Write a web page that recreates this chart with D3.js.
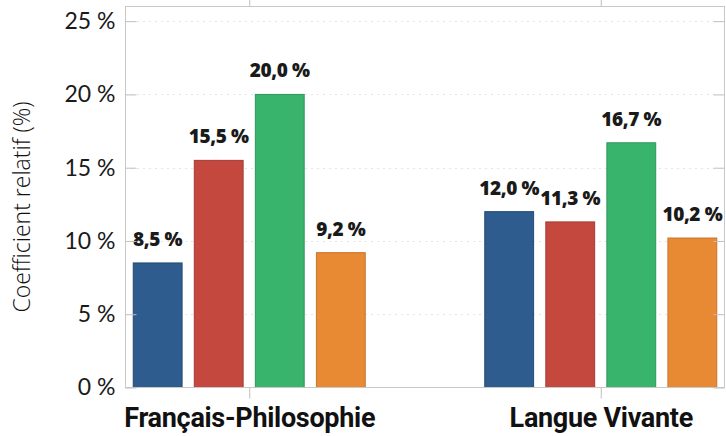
<!DOCTYPE html>
<html><head><meta charset="utf-8">
<script src="https://cdn.jsdelivr.net/npm/d3@7"></script>
<style>
html,body{margin:0;padding:0;background:#fff;}
svg{display:block;}
</style></head>
<body>
<svg id="chart" width="726" height="436"></svg>
<script>
const categories = ["Français-Philosophie", "Langue Vivante"];
const seriesNames = ["S1", "S2", "S3", "S4"];
const seriesValues = [
  [8.5, 12.0],
  [15.5, 11.3],
  [20.0, 16.7],
  [9.2, 10.2]
];
const seriesColors = ["#2e5c8f", "#c5483e", "#39b46c", "#e88a34"];
const seriesStrokes = ["#244a75", "#a53a32", "#2e965a", "#c8722a"];
const yTicks = [0, 5, 10, 15, 20, 25];
const yTitle = "Coefficient relatif (%)";

const svg = d3.select("#chart");
const L = 125.5, R = 724.5, T = 6.5, B = 387.5;

const y = d3.scaleLinear().domain([0, 26]).range([B, T]);
const x0 = d3.scalePoint().domain(categories).range([L, R]).padding(0.352);
const x1 = d3.scaleBand().domain(seriesNames).range([-116, 116]).paddingInner(0.2);

const fmt = v => d3.format(".1f")(v).replace(".", ",") + " %";

// plot area
svg.append("rect").attr("x", L).attr("y", T).attr("width", R - L).attr("height", B - T)
  .attr("fill", "#fff");

// gridlines
svg.append("g").selectAll("line").data(yTicks.filter(d => d > 0)).join("line")
  .attr("x1", L).attr("x2", R)
  .attr("y1", d => Math.round(y(d)) + 0.5).attr("y2", d => Math.round(y(d)) + 0.5)
  .attr("stroke", "#c8c8c8").attr("stroke-width", 1).attr("stroke-dasharray", "1,5");

// bars
const groups = svg.append("g").selectAll("g").data(categories).join("g")
  .attr("transform", d => `translate(${x0(d)},0)`);
seriesNames.forEach((s, si) => {
  groups.append("rect")
    .attr("x", x1(s)).attr("width", x1.bandwidth())
    .attr("y", (d, ci) => y(seriesValues[si][ci]))
    .attr("height", (d, ci) => y(0) - y(seriesValues[si][ci]))
    .attr("fill", seriesColors[si]).attr("stroke", seriesStrokes[si]).attr("stroke-width", 1);
  groups.append("text")
    .attr("x", x1(s) + x1.bandwidth() / 2)
    .attr("y", (d, ci) => y(seriesValues[si][ci]) - 17)
    .attr("text-anchor", "middle")
    .attr("font-family", "'Open Sans', sans-serif").attr("font-weight", 800)
    .attr("font-size", 19).attr("fill", "#1a1a1a")
    .attr("letter-spacing", "-0.4")
    .text((d, ci) => fmt(seriesValues[si][ci]));
});

// frame
svg.append("rect").attr("x", L).attr("y", T).attr("width", R - L).attr("height", B - T)
  .attr("fill", "none").attr("stroke", "#c8c8c8").attr("stroke-width", 1);

// y axes (ticks inward)
const yAxisL = d3.axisLeft(y).tickValues(yTicks).tickSize(-11).tickPadding(10)
  .tickFormat(d => d + " %");
const gl = svg.append("g").attr("transform", `translate(${L},0)`).call(yAxisL);
gl.select(".domain").remove();
gl.selectAll(".tick line").attr("stroke", "#c0c0c0");
gl.selectAll(".tick text").attr("font-family", "Lato, sans-serif").attr("font-weight", 400)
  .attr("font-size", 23).attr("fill", "#1a1a1a");

const yAxisR = d3.axisRight(y).tickValues(yTicks).tickSize(-11).tickFormat("");
const gr = svg.append("g").attr("transform", `translate(${R},0)`).call(yAxisR);
gr.select(".domain").remove();
gr.selectAll(".tick line").attr("stroke", "#c0c0c0");

// x axes (ticks outward)
const xAxisB = d3.axisBottom(x0).tickSize(11).tickPadding(4);
const gb = svg.append("g").attr("transform", `translate(0,${B})`).call(xAxisB);
gb.select(".domain").remove();
gb.selectAll(".tick line").attr("stroke", "#c0c0c0");
gb.selectAll(".tick text").attr("font-family", "Roboto, sans-serif").attr("font-weight", 700)
  .attr("font-size", 27).attr("fill", "#111").attr("letter-spacing", "-0.3")
  .attr("dy", "0.9em");

const xAxisT = d3.axisTop(x0).tickSize(11).tickFormat("");
const gt = svg.append("g").attr("transform", `translate(0,${T})`).call(xAxisT);
gt.select(".domain").remove();
gt.selectAll(".tick line").attr("stroke", "#c0c0c0");

// y title
svg.append("text")
  .attr("transform", `translate(30,207) rotate(-90)`)
  .attr("text-anchor", "middle")
  .attr("font-family", "'Open Sans', sans-serif").attr("font-weight", 300)
  .attr("font-size", 23).attr("fill", "#111")
  .text(yTitle);
</script>
</body></html>
